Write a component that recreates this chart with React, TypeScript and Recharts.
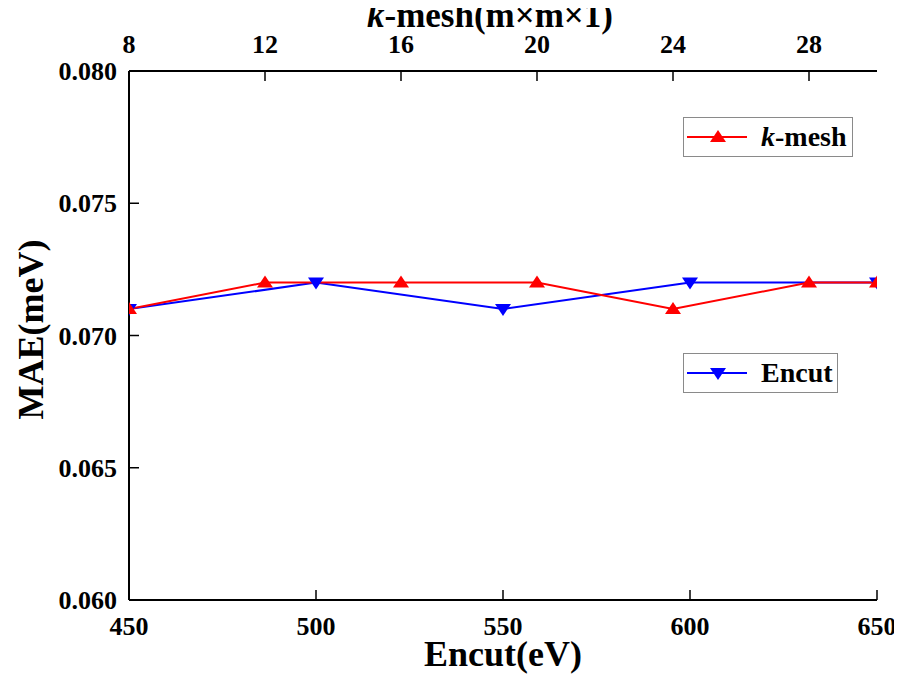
import React from 'react';
import { LineChart, Line, XAxis, YAxis } from 'recharts';

// ---- data ----
const kmeshValues = [8, 12, 16, 20, 24, 28, 30];
const kmeshMAE = [0.071, 0.072, 0.072, 0.072, 0.071, 0.072, 0.072];
const encutValues = [450, 500, 550, 600, 650];
const encutMAE = [0.071, 0.072, 0.071, 0.072, 0.072];

const bottomMajorTicks = [450, 500, 550, 600, 650];
const bottomMinorTicks = [475, 525, 575, 625];
const topMajorTicks = [8, 12, 16, 20, 24, 28];
const topMinorTicks = [10, 14, 18, 22, 26];
const yTicks = [0.06, 0.065, 0.07, 0.075, 0.08];

const seriesNames = ['k-mesh', 'Encut'];
const seriesColors = ['#ff0000', '#0000ff'];
const TIMES = '\u00D7';
const topTitleRest = '-mesh(m' + TIMES + 'm' + TIMES + '1)';

const kData = kmeshValues.map((k, i) => ({ k, mae: kmeshMAE[i] }));
const eData = encutValues.map((e, i) => ({ e, mae: encutMAE[i] }));

const FONT = 'Liberation Serif';
const tickStyle = { fontFamily: FONT, fontSize: 26, fontWeight: 700, fill: '#000' };
const axisLine = { stroke: '#000', strokeWidth: 2 };

const UpTri = (props: any) => {
  const { cx, cy, index } = props;
  if (cx == null || cy == null) return <g key={`u${index}`} />;
  return (
    <polygon
      key={`u${index}`}
      points={`${cx},${cy - 7} ${cx - 8},${cy + 5} ${cx + 8},${cy + 5}`}
      fill={seriesColors[0]}
    />
  );
};
const DownTri = (props: any) => {
  const { cx, cy, index } = props;
  if (cx == null || cy == null) return <g key={`d${index}`} />;
  return (
    <polygon
      key={`d${index}`}
      points={`${cx},${cy + 7} ${cx - 8},${cy - 5} ${cx + 8},${cy - 5}`}
      fill={seriesColors[1]}
    />
  );
};

const topTitle = (props: any) => {
  const vb = props.viewBox || {};
  return (
    <text
      x={vb.x + vb.width / 2 - 13}
      y={vb.y + 19}
      textAnchor="middle"
      fontFamily={FONT}
      fontSize={35}
      fontWeight={700}
      fill="#000"
    >
      <tspan fontStyle="italic">k</tspan>
      <tspan>{topTitleRest}</tspan>
    </text>
  );
};
const bottomTitle = (props: any) => {
  const vb = props.viewBox || {};
  return (
    <text
      x={vb.x + vb.width / 2}
      y={vb.y + 66}
      textAnchor="middle"
      fontFamily={FONT}
      fontSize={36}
      fontWeight={700}
      fill="#000"
    >
      Encut(eV)
    </text>
  );
};
const leftTitle = (props: any) => {
  const vb = props.viewBox || {};
  const x = vb.x + 35;
  const y = vb.y + vb.height / 2 - 6;
  return (
    <text
      x={x}
      y={y}
      transform={`rotate(-90, ${x}, ${y})`}
      textAnchor="middle"
      fontFamily={FONT}
      fontSize={36}
      fontWeight={700}
      fill="#000"
    >
      MAE(meV)
    </text>
  );
};

const LegendBox = ({ idx, left, top, width }: { idx: number; left: number; top: number; width: number }) => {
  const color = seriesColors[idx];
  const name = seriesNames[idx];
  return (
    <div
      style={{
        position: 'absolute',
        left,
        top,
        width,
        height: 40,
        border: '1px solid #8a8a8a',
        background: '#fff',
        boxSizing: 'border-box',
        display: 'flex',
        alignItems: 'center',
      }}
    >
      <svg width={64} height={24} style={{ marginLeft: 3, flex: 'none' }}>
        <line x1={0} y1={12} x2={60} y2={12} stroke={color} strokeWidth={2} />
        {idx === 0 ? (
          <polygon points="31,5 23,17 39,17" fill={color} />
        ) : (
          <polygon points="31,19 23,7 39,7" fill={color} />
        )}
      </svg>
      <span
        style={{
          fontFamily: FONT,
          fontSize: 28,
          fontWeight: 700,
          marginLeft: 10,
          lineHeight: 1,
          whiteSpace: 'nowrap',
        }}
      >
        {name === 'k-mesh' ? (
          <>
            <span style={{ fontStyle: 'italic' }}>k</span>-mesh
          </>
        ) : (
          name
        )}
      </span>
    </div>
  );
};

export default function App() {
  return (
    <div style={{ position: 'relative', width: 894, height: 673, background: '#fff', fontFamily: FONT }}>
      <LineChart width={894} height={673} margin={{ top: 0, right: 25, bottom: 0, left: 0 }}>
        <XAxis
          xAxisId="bottomMinor"
          type="number"
          dataKey="e"
          domain={[450, 650]}
          allowDataOverflow
          ticks={bottomMinorTicks}
          interval={0}
          height={0}
          axisLine={false}
          tickSize={-5}
          tickLine={{ stroke: '#000', strokeWidth: 1.5 }}
          tickFormatter={() => ''}
        />
        <XAxis
          xAxisId="bottom"
          type="number"
          dataKey="e"
          domain={[450, 650]}
          allowDataOverflow
          ticks={bottomMajorTicks}
          interval={0}
          height={81}
          axisLine={axisLine}
          tickSize={-10}
          tickMargin={27}
          tickLine={{ stroke: '#000', strokeWidth: 1.5 }}
          tick={tickStyle}
          label={bottomTitle}
        />
        <XAxis
          xAxisId="topMinor"
          orientation="top"
          type="number"
          dataKey="k"
          domain={[8, 30]}
          allowDataOverflow
          ticks={topMinorTicks}
          interval={0}
          height={0}
          axisLine={false}
          tickSize={-5}
          tickLine={{ stroke: '#000', strokeWidth: 1.5 }}
          tickFormatter={() => ''}
        />
        <XAxis
          xAxisId="top"
          orientation="top"
          type="number"
          dataKey="k"
          domain={[8, 30]}
          allowDataOverflow
          ticks={topMajorTicks}
          interval={0}
          height={63}
          axisLine={axisLine}
          tickSize={-10}
          tickMargin={28}
          tickLine={{ stroke: '#000', strokeWidth: 1.5 }}
          tick={tickStyle}
          label={topTitle}
        />
        <YAxis
          yAxisId="left"
          type="number"
          domain={[0.06, 0.08]}
          allowDataOverflow
          ticks={yTicks}
          interval={0}
          width={121}
          axisLine={axisLine}
          tickSize={-10}
          tickMargin={22}
          tickLine={{ stroke: '#000', strokeWidth: 1.5 }}
          tick={tickStyle}
          tickFormatter={(v: number) => v.toFixed(3)}
          label={leftTitle}
        />
        <YAxis
          yAxisId="right"
          orientation="right"
          type="number"
          domain={[0.06, 0.08]}
          allowDataOverflow
          ticks={[]}
          width={0}
          axisLine={axisLine}
          tickLine={false}
          tick={false}
        />
        <Line
          data={eData}
          xAxisId="bottom"
          yAxisId="left"
          dataKey="mae"
          name={seriesNames[1]}
          stroke={seriesColors[1]}
          strokeWidth={2}
          dot={DownTri}
          activeDot={false}
          isAnimationActive={false}
        />
        <Line
          data={kData}
          xAxisId="top"
          yAxisId="left"
          dataKey="mae"
          name={seriesNames[0]}
          stroke={seriesColors[0]}
          strokeWidth={2}
          dot={UpTri}
          activeDot={false}
          isAnimationActive={false}
        />
      </LineChart>
      <LegendBox idx={0} left={675} top={109} width={170} />
      <LegendBox idx={1} left={675} top={345} width={155} />
    </div>
  );
}
